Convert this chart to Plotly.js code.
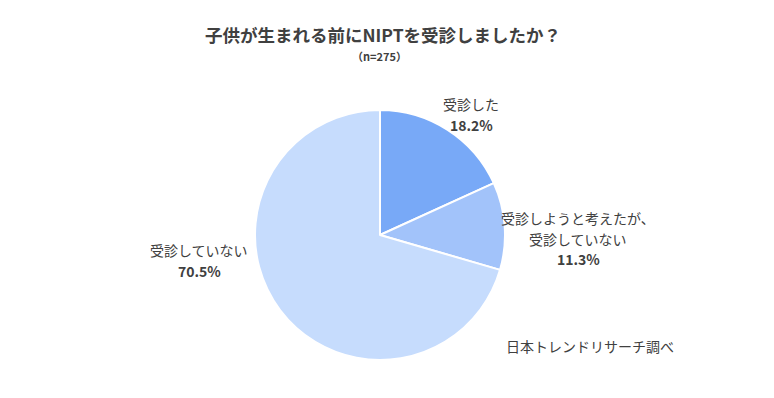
<!DOCTYPE html>
<html><head><meta charset="utf-8">
<script src="https://cdn.plot.ly/plotly-3.0.1.min.js"></script>
<style>html,body{margin:0;padding:0;background:#fff}#c{width:774px;height:398px}</style>
</head><body><div id="c"></div>
<script>
const categories = ["受診した", "受診しようと考えたが、|受診していない", "受診していない"];
const values = [18.2, 11.3, 70.5];
const colors = ["#78a9f7", "#a2c3fa", "#c6dcfd"];
const titleText = "子供が生まれる前にNIPTを受診しましたか？";
const subtitleText = "（n=275）";
const sourceText = "日本トレンドリサーチ調べ";

const font = "Noto Sans CJK JP, sans-serif";
const txt = "#404040";
// label anchor: [center x, y of first line] in pixels
const labelPos = [[471, 104], [578, 218], [199, 250]];
const lineGap = 20.5;
const ann = [];
categories.forEach((c, i) => {
  const lines = c.split("|").concat(["<b>" + values[i].toFixed(1) + "%</b>"]);
  lines.forEach((t, j) => {
    ann.push({
      xref: "paper", yref: "paper",
      x: labelPos[i][0] / 774, y: 1 - (labelPos[i][1] + j * lineGap) / 398,
      xanchor: "center", yanchor: "middle", showarrow: false,
      text: t, font: {family: font, size: 14, color: txt}
    });
  });
});
ann.push({xref: "paper", yref: "paper", x: 379/774, y: 1 - 56/398, showarrow: false,
  xanchor: "center", yanchor: "middle", text: "<b>" + subtitleText + "</b>", font: {family: font, size: 11, color: txt}});
ann.push({xref: "paper", yref: "paper", x: 590/774, y: 1 - 346/398, showarrow: false,
  xanchor: "center", yanchor: "middle", text: sourceText, font: {family: font, size: 14, color: txt}});

Plotly.newPlot("c", [{
  type: "pie", labels: categories, values: values, sort: false, direction: "clockwise", rotation: 0,
  marker: {colors: colors, line: {color: "#ffffff", width: 2}},
  textinfo: "none", hoverinfo: "none",
  domain: {x: [255/774, 505/774], y: [1 - 360/398, 1 - 110/398]}
}], {
  width: 774, height: 398, margin: {l: 0, r: 0, t: 0, b: 0},
  paper_bgcolor: "#fff", showlegend: false,
  title: {text: "<b>" + titleText + "</b>", x: 383/774, xanchor: "center", y: 1 - 36/398, yanchor: "middle",
    font: {family: font, size: 17.5, color: txt}},
  annotations: ann
}, {displayModeBar: false, staticPlot: true});
</script></body></html>
